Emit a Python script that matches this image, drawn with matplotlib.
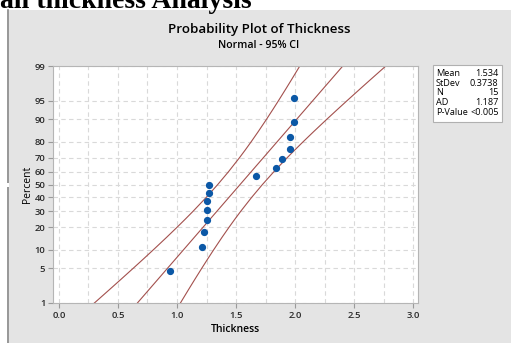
#!/usr/bin/env python3
"""Probability plot of thickness (normal, 95% CI) in Minitab style."""
from statistics import NormalDist
import numpy as np
import matplotlib
matplotlib.use('Agg')
import matplotlib.pyplot as plt
from matplotlib.patches import Rectangle

plt.rcParams['font.family'] = ['Open Sans', 'DejaVu Sans']

# Data
THICKNESS = [0.94, 1.21, 1.23, 1.25, 1.257, 1.257, 1.269, 1.269,
             1.667, 1.839, 1.887, 1.958, 1.958, 1.994, 1.994]
PERCENT = [4.5, 11.0, 17.5, 24.0, 30.5, 37.0, 43.5, 50.0,
           56.5, 63.0, 69.5, 76.0, 82.5, 89.0, 95.5]

# Summary shown in the side table
STAT_LABELS = ['Mean', 'StDev', 'N', 'AD', 'P-Value']
STAT_VALUES = ['1.534', '0.3738', '15', '1.187', '<0.005']
MEAN = 1.534
STDEV = 0.3738
N = 15

Y_TICKS = [1, 5, 10, 20, 30, 40, 50, 60, 70, 80, 90, 95, 99]
X_TICKS = [0.0, 0.5, 1.0, 1.5, 2.0, 2.5, 3.0]

W, H = 511, 343
ND = NormalDist()
POINT_COLOR = '#0b58a6'
LINE_COLOR = '#a3504d'
PANEL_COLOR = '#e4e4e4'


def _fwd(p):
    p = np.clip(np.asarray(p, dtype=float), 1e-4, 100 - 1e-4)
    return np.vectorize(lambda v: ND.inv_cdf(v / 100.0), otypes=[float])(p)


def _inv(z):
    return np.vectorize(lambda v: ND.cdf(v) * 100.0, otypes=[float])(np.asarray(z, dtype=float))


def fx(px):
    return px / W


def fy(py):
    return 1 - py / H


fig = plt.figure(figsize=(W / 100, H / 100), dpi=100, facecolor='white')

# grey panel behind the chart
fig.patches.append(Rectangle((fx(7), 0), 1, fy(10), transform=fig.transFigure,
                             facecolor=PANEL_COLOR, edgecolor='none', zorder=-2))
fig.add_artist(plt.Line2D([fx(7.5), fx(7.5)], [0, fy(10)], color='#8a8a8a', lw=1.2, zorder=-1))
fig.patches.append(Rectangle((fx(5), fy(187)), fx(4), 4 / H, transform=fig.transFigure,
                             facecolor='white', edgecolor='none', zorder=-1))

# header from the report, cut off at the top
fig.text(0, fy(7.5), 'all thickness Analysis', family=['Liberation Serif', 'DejaVu Serif'],
         fontsize=20, fontweight='bold', va='baseline', ha='left')

ax = fig.add_axes([fx(53), fy(303), fx(418) - fx(53), fy(66) - fy(303)])
ax.set_facecolor('white')
ax.set_yscale('function', functions=(_fwd, _inv))

# fitted line and 95% confidence bounds
pct = np.array([0.1, 0.2, 0.5, 1, 2, 3, 5, 7, 10, 15, 20, 25, 30, 40, 50,
                60, 70, 75, 80, 85, 90, 93, 95, 97, 98, 99, 99.5, 99.8, 99.9])
z = _fwd(pct)
fit = MEAN + z * STDEV
half = 1.96 * STDEV * np.sqrt((1 + z ** 2 / 2) / N)
ax.plot(fit, pct, color=LINE_COLOR, lw=0.8, zorder=2)
ax.plot(fit - half, pct, color=LINE_COLOR, lw=0.8, zorder=2)
ax.plot(fit + half, pct, color=LINE_COLOR, lw=0.8, zorder=2)

ax.plot(THICKNESS, PERCENT, 'o', color=POINT_COLOR, markersize=4.2, zorder=3)

ax.set_xlim(-0.05, 3.04)
ax.set_ylim(1, 99)
ax.set_yticks(Y_TICKS)
ax.set_yticklabels([str(t) for t in Y_TICKS])
ax.set_xticks(X_TICKS)
ax.set_xticklabels([f'{t:.1f}' for t in X_TICKS])
ax.set_xticks(np.arange(0.25, 3.0, 0.5), minor=True)
ax.yaxis.set_minor_locator(matplotlib.ticker.NullLocator())

ax.grid(True, which='both', axis='x', linestyle=(0, (4, 3)), color='#d9d9d9', lw=0.8)
ax.grid(True, which='major', axis='y', linestyle=(0, (4, 3)), color='#d9d9d9', lw=0.8)
ax.set_axisbelow(True)
ax.tick_params(which='major', labelsize=6.8, length=3.5, color='#9a9a9a', labelcolor='#2a2a2a', pad=2)
ax.tick_params(which='minor', length=0)
for lbl in ax.get_xticklabels() + ax.get_yticklabels():
    lbl.set_fontweight('semibold')
for s in ax.spines.values():
    s.set_color('#b5b5b5')
    s.set_linewidth(0.8)

ax.set_xlabel('Thickness', fontsize=7.5, fontweight='semibold', labelpad=3)
ax.set_ylabel('Percent', fontsize=7.5, labelpad=1)

fig.text(fx(259), fy(30), 'Probability Plot of Thickness', fontsize=9.6,
         fontweight='semibold', ha='center', va='center')
fig.text(fx(259), fy(45), 'Normal - 95% CI', fontsize=7.6, fontweight='semibold',
         ha='center', va='center')

# side table with summary statistics
fig.patches.append(Rectangle((fx(433), fy(122)), fx(502) - fx(433), fy(65) - fy(122),
                             transform=fig.transFigure, facecolor='white',
                             edgecolor='#b0b0b0', lw=0.8, zorder=1))
for i, (lab, val) in enumerate(zip(STAT_LABELS, STAT_VALUES)):
    y = fy(73.5 + i * 9.7)
    fig.text(fx(436), y, lab, fontsize=6.6, ha='left', va='center', zorder=2)
    fig.text(fx(498.5), y, val, fontsize=6.6, ha='right', va='center', zorder=2)

fig.savefig('out.png', dpi=100)
